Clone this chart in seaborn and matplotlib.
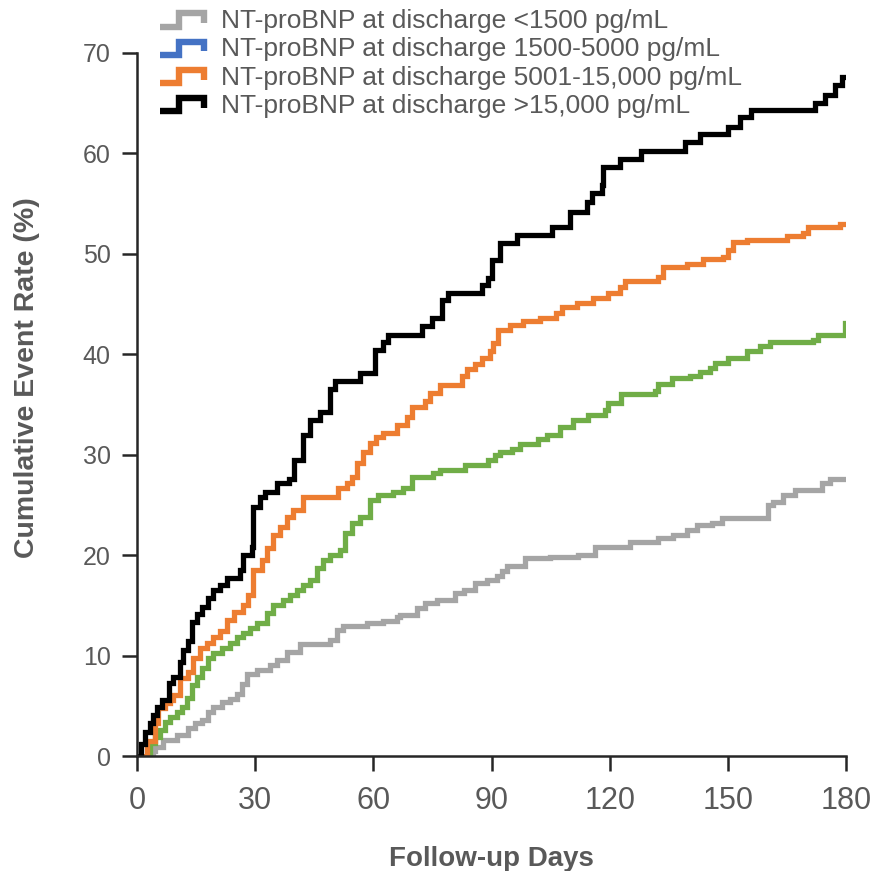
import numpy as np
import pandas as pd
import matplotlib
matplotlib.use("Agg")
import matplotlib.pyplot as plt
from matplotlib.lines import Line2D
from matplotlib.legend_handler import HandlerBase
import seaborn as sns

# Cumulative event curves by discharge NT-proBNP group (step points: day, %)
labels = [
    "NT-proBNP at discharge <1500 pg/mL",
    "NT-proBNP at discharge 1500-5000 pg/mL",
    "NT-proBNP at discharge 5001-15,000 pg/mL",
    "NT-proBNP at discharge >15,000 pg/mL",
]

low_days = [3.7, 4.0, 4.6, 6.7, 10.1, 13.0, 14.7, 16.4, 18.1, 19.4, 21.5, 23.6, 25.3,
            26.6, 27.8, 30.4, 33.8, 35.5, 38.0, 41.4, 49.0, 50.7, 52.4, 58.3, 62.5,
            65.9, 66.8, 71.0, 73.1, 76.1, 80.7, 83.0, 85.8, 88.8, 91.3, 92.6, 93.9,
            98.5, 104.8, 112.0, 116.3, 125.2, 132.3, 136.2, 139.6, 142.1, 145.9, 148.4,
            160.3, 161.5, 164.1, 167.0, 173.8, 175.9, 180.0]
low_rate = [0.0, 0.5, 0.9, 1.6, 2.1, 2.8, 3.3, 3.6, 4.4, 4.9, 5.4, 5.7, 6.2,
            7.2, 8.2, 8.6, 9.1, 9.6, 10.4, 11.2, 11.6, 12.5, 12.9, 13.2, 13.4,
            13.8, 14.0, 14.7, 15.2, 15.5, 16.2, 16.5, 17.2, 17.5, 17.9, 18.4, 18.9,
            19.7, 19.8, 20.0, 20.8, 21.3, 21.7, 22.0, 22.5, 23.0, 23.2, 23.7,
            25.0, 25.3, 26.0, 26.5, 27.2, 27.6, 27.6]

mid_days = [2.9, 3.2, 4.6, 5.8, 7.1, 8.4, 10.1, 11.3, 12.6, 13.9, 15.2, 16.4, 18.1,
            19.4, 21.5, 23.6, 25.3, 27.0, 28.7, 30.4, 32.9, 34.6, 37.1, 38.8, 40.5,
            42.2, 43.9, 45.6, 47.3, 49.0, 51.5, 52.8, 54.5, 56.6, 59.2, 61.3, 65.1,
            67.6, 69.7, 75.2, 76.9, 83.3, 89.2, 90.9, 92.2, 95.1, 97.2, 101.9, 104.0,
            107.4, 110.8, 114.6, 118.8, 119.7, 123.0, 131.5, 132.3, 135.7, 140.4,
            142.9, 145.5, 146.7, 150.1, 154.8, 158.2, 160.7, 171.7, 173.0, 179.7, 180.0]
mid_rate = [0.0, 1.3, 1.9, 2.6, 3.4, 3.9, 4.4, 4.9, 5.8, 7.1, 7.9, 8.8, 9.8,
            10.3, 10.8, 11.3, 11.8, 12.2, 12.7, 13.2, 14.2, 15.0, 15.5, 16.0, 16.5,
            17.0, 17.5, 18.7, 19.5, 20.0, 20.5, 22.2, 23.2, 23.8, 25.5, 26.0, 26.3,
            26.7, 27.8, 28.2, 28.5, 29.0, 29.5, 30.0, 30.3, 30.6, 31.1, 31.6, 32.0,
            32.8, 33.5, 34.0, 34.5, 35.1, 36.0, 36.3, 37.0, 37.6, 37.8,
            38.2, 38.6, 39.1, 39.6, 40.3, 40.8, 41.2, 41.4, 41.9, 43.1, 43.1]

high_days = [2.0, 2.5, 4.6, 5.4, 7.1, 8.4, 9.2, 10.9, 13.0, 14.3, 16.0, 17.7, 19.4,
             21.1, 22.8, 24.5, 27.0, 28.3, 29.5, 31.7, 32.9, 34.6, 36.3, 38.0, 39.7,
             42.2, 51.1, 53.2, 54.5, 55.8, 57.5, 59.2, 60.8, 62.5, 65.9, 68.5, 69.7,
             73.1, 74.4, 76.9, 82.4, 83.7, 85.8, 87.5, 89.6, 90.5, 91.7, 94.7, 98.1,
             102.3, 106.5, 107.8, 111.6, 115.8, 119.7, 122.6, 123.8, 132.3, 133.6,
             139.6, 143.8, 148.8, 150.1, 151.4, 154.8, 164.9, 169.2, 170.4, 178.5, 180.0]
high_rate = [0.0, 1.5, 3.3, 4.8, 5.3, 5.6, 6.1, 7.8, 8.4, 9.8, 10.8, 11.3, 11.8,
             12.4, 13.5, 14.3, 15.0, 16.0, 18.5, 19.5, 20.7, 22.0, 22.8, 23.8, 24.5,
             25.8, 26.7, 27.2, 27.8, 29.2, 30.3, 31.2, 31.8, 32.2, 33.0, 33.8, 34.8,
             35.3, 36.1, 36.9, 37.8, 38.5, 39.0, 39.6, 40.3, 41.1, 42.4, 42.9, 43.3,
             43.6, 44.1, 44.7, 45.1, 45.6, 46.1, 46.7, 47.3, 47.7, 48.7,
             49.0, 49.5, 49.7, 50.4, 51.2, 51.4, 51.8, 52.1, 52.7, 53.0, 53.0]

vhigh_days = [0.5, 1.0, 2.0, 3.3, 4.1, 5.0, 6.3, 8.0, 9.2, 10.9, 11.8, 13.0, 13.9,
              15.2, 16.4, 18.1, 19.4, 21.1, 22.8, 26.1, 27.0, 29.1, 29.5, 31.2, 32.5,
              35.5, 38.5, 39.8, 42.2, 43.9, 46.4, 48.9, 50.2, 56.6, 60.4, 62.5, 63.8,
              72.3, 74.8, 77.4, 79.0, 87.5, 89.2, 90.0, 92.2, 96.4, 105.3, 109.9,
              114.2, 115.4, 118.0, 118.4, 122.6, 128.0, 139.1, 142.9, 150.1, 153.1,
              156.0, 172.1, 174.7, 177.2, 179.0, 180.0]
vhigh_rate = [0.0, 1.2, 2.4, 3.3, 4.1, 4.9, 5.6, 7.3, 7.9, 9.4, 10.6, 11.5, 13.3,
              14.1, 14.8, 15.7, 16.5, 17.0, 17.7, 18.5, 20.0, 20.8, 24.8, 25.8, 26.3,
              27.2, 27.6, 29.5, 32.0, 33.5, 34.3, 36.5, 37.3, 38.1, 40.4, 41.2, 41.9,
              42.8, 43.6, 45.4, 46.1, 46.9, 47.6, 49.4, 51.1, 51.9, 52.7, 54.2,
              55.2, 56.1, 56.9, 58.6, 59.4, 60.2, 61.1, 61.9, 62.6, 63.6,
              64.3, 65.0, 65.8, 66.8, 67.6, 67.6]

line_colors = ["#A5A5A5", "#70AD47", "#ED7D31", "#000000"]
legend_colors = ["#A5A5A5", "#4472C4", "#ED7D31", "#000000"]

frames = []
for lab, d, r in zip(labels,
                     [low_days, mid_days, high_days, vhigh_days],
                     [low_rate, mid_rate, high_rate, vhigh_rate]):
    frames.append(pd.DataFrame({"day": d, "rate": r, "group": lab}))
df = pd.concat(frames, ignore_index=True)

sns.set_style("ticks")
plt.rcParams["font.family"] = ["Liberation Sans", "DejaVu Sans"]

text_gray = "#595959"
axis_dark = "#262626"
narrow = ["Liberation Sans Narrow", "Liberation Sans", "DejaVu Sans"]

fig = plt.figure(figsize=(8.71, 8.71), dpi=100)
ax = fig.add_axes([137 / 871, 115 / 871, (846 - 137) / 871, (756 - 53) / 871])

sns.lineplot(data=df, x="day", y="rate", hue="group", hue_order=labels,
             palette=line_colors, estimator=None, sort=False,
             drawstyle="steps-post", linewidth=3.8, legend=False, ax=ax,
             solid_joinstyle="miter")

ax.set_xlim(0, 180)
ax.set_ylim(0, 70)
ax.set_xticks(np.arange(0, 181, 30))
ax.set_yticks(np.arange(0, 71, 10))
ax.margins(0)

for side in ["top", "right"]:
    ax.spines[side].set_visible(False)
for side in ["left", "bottom"]:
    ax.spines[side].set_color(axis_dark)
    ax.spines[side].set_linewidth(1.8)
    ax.spines[side].set_clip_on(False)

ax.tick_params(axis="y", direction="out", length=11, width=1.8, color=axis_dark,
               labelsize=18, labelcolor=text_gray, pad=8)
ax.tick_params(axis="x", direction="out", length=10.5, width=1.8, color=axis_dark,
               labelsize=22, labelcolor=text_gray, pad=11)
for t in ax.get_xticklabels():
    t.set_family(narrow)

ax.set_xlabel("Follow-up Days", fontsize=20, fontweight="bold", color=text_gray,
              family=narrow, labelpad=22)
ax.set_ylabel("Cumulative Event Rate (%)", fontsize=20.5, fontweight="bold",
              color=text_gray, family=narrow)
ax.yaxis.set_label_coords(-0.137, 0.538)


class StepHandler(HandlerBase):
    """Legend key drawn as a small step line."""

    def create_artists(self, legend, orig_handle, xdescent, ydescent, width,
                       height, fontsize, trans):
        xs = np.array([0.0, 0.42, 0.42, 0.96, 0.96]) * width - xdescent
        ys = np.array([0.12, 0.12, 0.78, 0.78, 0.3]) * height - ydescent
        ln = Line2D(xs, ys, color=orig_handle.get_color(),
                    linewidth=orig_handle.get_linewidth(),
                    solid_joinstyle="miter", solid_capstyle="butt")
        ln.set_transform(trans)
        return [ln]


handles = [Line2D([], [], color=c, linewidth=4.6) for c in legend_colors]
leg = fig.legend(handles, labels, loc="upper left",
                 bbox_to_anchor=(160 / 871, 1 - 9 / 871),
                 frameon=False, fontsize=19, labelcolor=text_gray,
                 handlelength=1.75, handleheight=0.8, handletextpad=0.55,
                 labelspacing=0.15, borderaxespad=0, borderpad=0,
                 handler_map={Line2D: StepHandler()})

fig.savefig("out.png", dpi=100, facecolor="white")
